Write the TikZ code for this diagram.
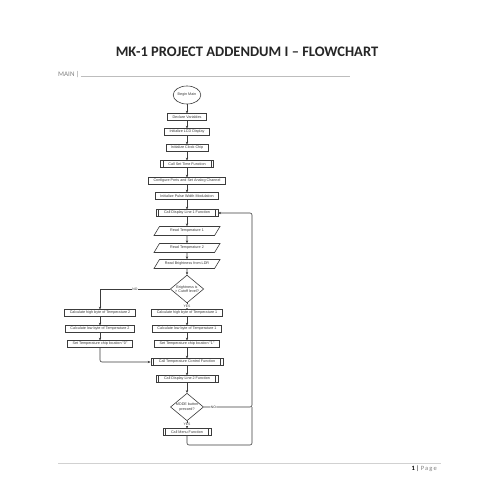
\documentclass[tikz,border=0pt]{standalone}
\usepackage{fontspec}
\setmainfont{Carlito}
\newfontfamily\chartfont{Liberation Sans}
\usetikzlibrary{shapes.geometric,arrows.meta,positioning}
\definecolor{linegray}{HTML}{3C3C3C}
\definecolor{txtgray}{HTML}{3A3A3A}
\definecolor{rulegray}{HTML}{BDBDBD}
\tikzset{
  proc/.style={draw=linegray, rectangle, line width=0.6pt, text=txtgray,
    font=\chartfont\fontsize{3.7}{4.3}\selectfont, inner xsep=5pt, inner ysep=1.4pt, minimum height=6.5pt},
  sub/.style={proc, inner xsep=8pt, path picture={
    \draw[linegray, line width=0.6pt]
      ([xshift=2.5pt]path picture bounding box.north west) -- ([xshift=2.5pt]path picture bounding box.south west)
      ([xshift=-2.5pt]path picture bounding box.north east) -- ([xshift=-2.5pt]path picture bounding box.south east);}},
  io/.style={proc, trapezium, trapezium left angle=45, trapezium right angle=135,
    trapezium stretches body, minimum width=66pt, minimum height=9pt, inner ysep=1pt},
  decision/.style={proc, diamond, aspect=1.2, inner sep=0.3pt, align=center},
  term/.style={proc, ellipse, inner sep=0.5pt, minimum width=22pt, minimum height=18pt},
  flow/.style={draw=linegray, line width=0.6pt, -{Stealth[length=2.8pt,width=2.4pt]}},
  tag/.style={font=\chartfont\fontsize{3.4}{4}\selectfont, text=txtgray, fill=white, inner sep=0.6pt}
}
\begin{document}
\begin{tikzpicture}[x=1pt, y=1pt, node distance=16pt, on grid]
  \useasboundingbox (0,0) rectangle (495,-495);
  \fill[white] (0,0) rectangle (495,-495);

  % page heading
  \node (title) at (247,-52) {\bfseries\fontsize{14.5}{17}\selectfont\color[HTML]{262626}MK-1 PROJECT ADDENDUM I – FLOWCHART};
  \node[anchor=base west, inner sep=0pt, text=gray] (main) at (58,-77) {\fontsize{7}{8}\selectfont MAIN |};
  \draw[rulegray, line width=0.5pt] (main.base east) ++(1pt,0.5pt) coordinate (rulestart) -- (350,-76.5);

  % main column
  \node[term] (begin) at (187,-95) {Begin Main};
  \node[proc] (decl)    [below=22pt of begin]   {Declare Variables};
  \node[proc] (lcd)     [below=15pt of decl]    {Initialize LCD Display};
  \node[proc] (clock)   [below=of lcd]          {Initialize Clock Chip};
  \node[sub]  (settime) [below=of clock]        {Call Set Time Function};
  \node[proc] (ports)   [below=17pt of settime] {Configure Ports and Set Analog Channel};
  \node[proc] (pwm)     [below=15pt of ports]   {Initialize Pulse Width Modulation};
  \node[sub]  (disp1)   [below=17pt of pwm]     {Call Display Line 1 Function};
  \node[io]   (temp1)   [below=18pt of disp1]   {Read Temperature 1};
  \node[io]   (temp2)   [below=17pt of temp1]   {Read Temperature 2};
  \node[io]   (ldr)     [below=of temp2]        {Read Brightness from LDR};
  \node[decision] (bright) [below=25pt of ldr]  {Brightness is\\> Cutoff level?};
  \node[proc] (hi1)     [below=24pt of bright]  {Calculate high byte of Temperature 1};
  \node[proc] (lo1)     [below=of hi1]          {Calculate low byte of Temperature 1};
  \node[proc] (loc1)    [below=15pt of lo1]     {Set Temperature chip location "1"};
  \node[sub]  (tctrl)   [below=18pt of loc1]    {Call Temperature Control Function};
  \node[sub]  (disp2)   [below=17pt of tctrl]   {Call Display Line 2 Function};
  \node[decision] (mode) [below=28pt of disp2]  {MODE button\\pressed?};
  \node[sub]  (menu)    [below=25pt of mode]    {Call Menu Function};

  % left column
  \node[proc] (hi2)  [left=87pt of hi1]  {Calculate high byte of Temperature 2};
  \node[proc] (lo2)  [left=87pt of lo1]  {Calculate low byte of Temperature 2};
  \node[proc] (loc0) [left=87pt of loc1] {Set Temperature chip location "0"};

  \coordinate[right=65pt of disp1] (loop);
  \coordinate[below=13pt of menu] (loopbot);

  % straight flow
  \foreach \a/\b in {begin/decl, decl/lcd, lcd/clock, clock/settime, settime/ports,
      ports/pwm, pwm/disp1, disp1/temp1, temp1/temp2, temp2/ldr, ldr/bright,
      hi1/lo1, lo1/loc1, loc1/tctrl, tctrl/disp2, disp2/mode, hi2/lo2, lo2/loc0}
    \draw[flow] (\a) -- (\b);

  % branches
  \draw[flow] (bright) -- node[tag, pos=0.45] {YES} (hi1);
  \draw[flow] (bright.west) -- node[tag] {NO} (bright.west -| hi2) -- (hi2);
  \draw[flow, rounded corners=2pt] (loc0) |- (tctrl.west);
  \draw[flow] (mode) -- node[tag, pos=0.45] {YES} (menu);
  \draw[flow, rounded corners=2pt] (mode.east) -- node[tag, pos=0.2] {NO} (mode.east -| loop) -- (loop) -- (disp1.east);
  \draw[draw=linegray, line width=0.6pt, rounded corners=2pt] (menu.south) -- (loopbot) -| (mode.east -| loop);

  % page footer
  \draw[rulegray!70, line width=0.4pt] (58,-463) -- (441,-463);
  \node[anchor=base east, inner sep=0pt] (pageno) at (437,-470.5)
    {\fontsize{6.5}{8}\selectfont\textbf{1} | \color{gray}P\,a\,g\,e};
\end{tikzpicture}
\end{document}
